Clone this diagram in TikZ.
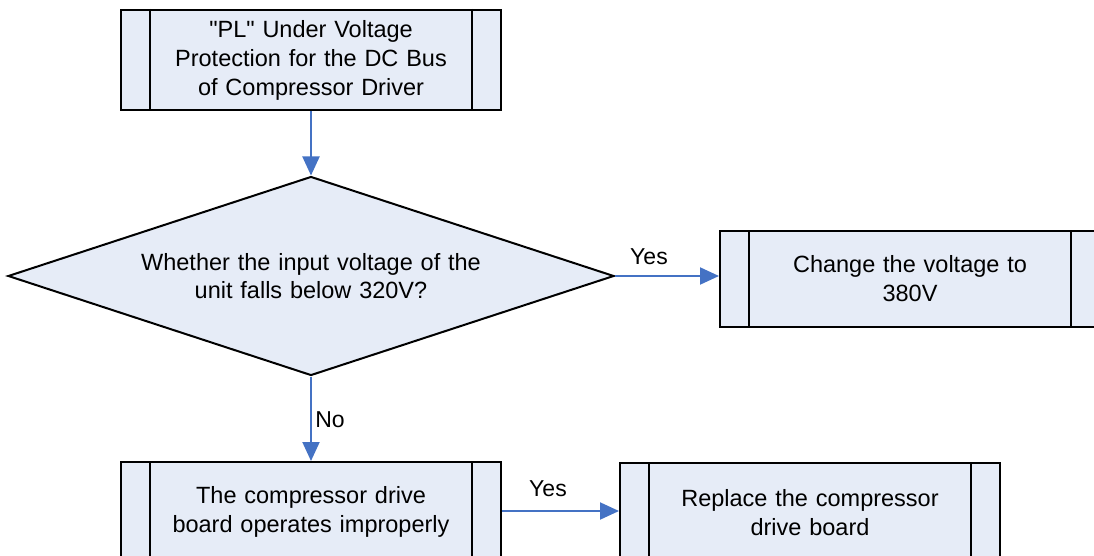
\documentclass[tikz,border=0pt]{standalone}
\usepackage{fontspec}
\setmainfont{Liberation Sans}[Ligatures=TeXOff]
\usetikzlibrary{arrows.meta,shapes.geometric,calc}
\definecolor{boxfill}{RGB}{230,236,247}
\definecolor{arrowblue}{RGB}{68,114,196}
\tikzset{
  subproc/.style={draw=black, line width=2pt, fill=boxfill, minimum width=380pt, minimum height=100pt, inner sep=0pt, text width=330pt, align=center, font=\fontsize{23.5}{29}\selectfont},
  decision/.style={diamond, draw=black, line width=2pt, fill=boxfill, minimum width=606pt, minimum height=199pt, aspect=3.05, inner sep=0pt, text width=400pt, align=center, font=\fontsize{23.5}{28}\selectfont},
  flow/.style={draw=arrowblue, line width=2pt, -{Triangle[length=19pt,width=17pt]}},
  lbl/.style={font=\fontsize{23}{26}\selectfont, inner sep=0pt}
}
\newcommand{\sidebars}[1]{%
  \draw[line width=2pt] ($(#1.north west)+(30pt,0)$) -- ($(#1.south west)+(30pt,0)$);
  \draw[line width=2pt] ($(#1.north east)+(-30pt,0)$) -- ($(#1.south east)+(-30pt,0)$);}
\begin{document}
\begin{tikzpicture}[x=1pt,y=1pt]
\useasboundingbox (0,0) rectangle (1094,555);
\clip (0,0) rectangle (1094,555);
\node[subproc] (start) at (311,495) {"PL" Under Voltage\\Protection for the DC Bus\\of Compressor Driver};
\sidebars{start}
\node[decision] (dec) at (311,279) {Whether the input voltage of the\\unit falls below 320V?};
\node[subproc, minimum height=95pt] (change) at (910,276) {Change the voltage to\\380V};
\sidebars{change}
\node[subproc] (board) at (311,43) {The compressor drive\\board operates improperly\\[30pt]};
\sidebars{board}
\node[subproc] (replace) at (810,42) {Replace the compressor\\drive board\\[32pt]};
\sidebars{replace}
\draw[flow] (start.south) -- (dec.north);
\draw[flow] (dec.east) -- (dec.east -| change.west);
\draw[flow] (dec.south) -- (board.north);
\draw[flow] (board.east |- 0,44) -- (replace.west |- 0,44);
\node[lbl] (yes1) at (649,298) {Yes};
\node[lbl] (no1) at (330,135) {No};
\node[lbl] (yes2) at (548,66) {Yes};
\end{tikzpicture}
\end{document}
